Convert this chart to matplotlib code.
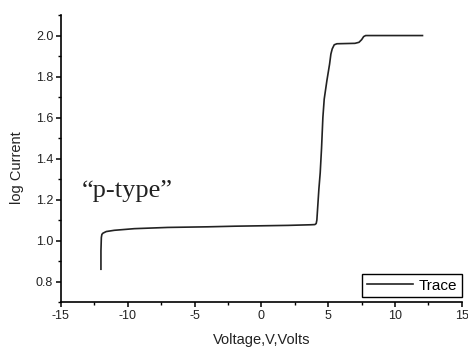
import numpy as np
import matplotlib.pyplot as plt
from matplotlib.ticker import MultipleLocator

# trace
voltage = [-12.0, -12.0, -11.97, -11.93, -11.85, -11.6, -11.0, -9.5, -7.0, -4.0, -2.0,
           0.0, 2.0, 3.7, 4.0, 4.1, 4.15, 4.2, 4.3, 4.4, 4.5, 4.6, 4.7, 4.9, 5.1,
           5.2, 5.3, 5.45, 5.65, 7.0, 7.3, 7.5, 7.65, 7.8, 12.05]
log_current = [0.86, 0.95, 1.015, 1.03, 1.036, 1.044, 1.05, 1.058, 1.064, 1.067, 1.07,
               1.072, 1.074, 1.077, 1.078, 1.083, 1.10, 1.15, 1.25, 1.33, 1.45, 1.60, 1.69, 1.78, 1.86,
               1.91, 1.935, 1.955, 1.96, 1.962, 1.967, 1.98, 1.995, 2.0, 2.0]

plt.rcParams['font.family'] = ['Liberation Sans', 'DejaVu Sans']

fig = plt.figure(figsize=(4.68, 3.5), dpi=100)
ax = fig.add_axes([0.130, 0.137, 0.857, 0.820])

ax.plot(voltage, log_current, color='#222222', lw=1.2, label='Trace')

ax.set_xlim(-15, 15)
ax.set_ylim(0.7, 2.1)
ax.xaxis.set_minor_locator(MultipleLocator(2.5))
ax.yaxis.set_minor_locator(MultipleLocator(0.1))
ax.set_xticks([-15, -10, -5, 0, 5, 10, 15])
ax.set_xticklabels(['-15', '-10', '-5', '0', '5', '10', '15'])
ax.set_yticks([0.8, 1.0, 1.2, 1.4, 1.6, 1.8, 2.0])
ax.set_yticklabels(['0.8', '1.0', '1.2', '1.4', '1.6', '1.8', '2.0'])

for s in ['top', 'right']:
    ax.spines[s].set_visible(False)
for s in ['left', 'bottom']:
    ax.spines[s].set_linewidth(1.2)
ax.tick_params(which='major', direction='out', length=3.5, width=1.1, labelsize=9,
               pad=2, labelcolor='#222222')
ax.tick_params(which='minor', direction='out', length=2.2, width=1.0)

ax.set_xlabel('Voltage,V,Volts', fontsize=10.5, labelpad=8, color='#222222')
ax.set_ylabel('log Current', fontsize=10.5, color='#222222')
ax.yaxis.set_label_coords(-0.092, 0.47)

ax.text(-13.4, 1.24, '\u201cp-type\u201d', family='Liberation Serif', fontsize=19, va='center',
        color='#222222')

leg = ax.legend(loc='lower right', bbox_to_anchor=(1.0, 0.017), borderaxespad=0,
                fontsize=11, handlelength=3.0, fancybox=False, framealpha=1,
                edgecolor='black', borderpad=0.3, handletextpad=0.4)
leg.get_frame().set_linewidth(1.0)

fig.savefig('out.png', dpi=100)
